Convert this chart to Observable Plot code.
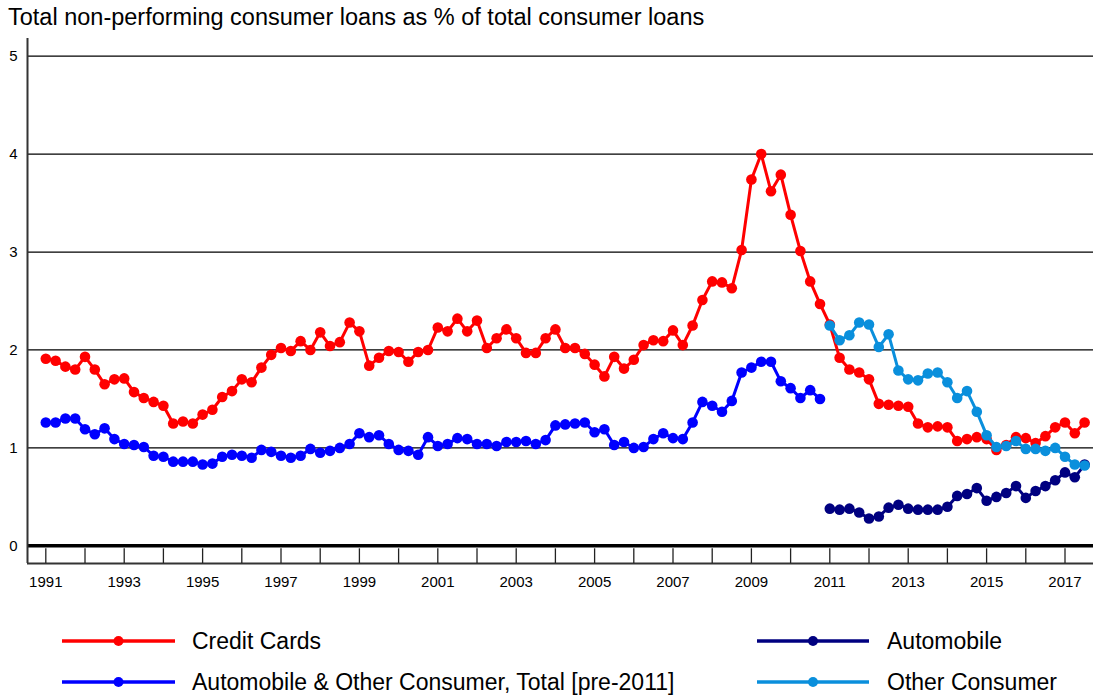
<!DOCTYPE html>
<html><head><meta charset="utf-8">
<script src="https://cdn.jsdelivr.net/npm/d3@7"></script>
<script src="https://cdn.jsdelivr.net/npm/@observablehq/plot@0.6"></script>
<style>
body{margin:0;background:#fff;font-family:"Liberation Sans",Arial,sans-serif;color:#000;}
#wrap{position:relative;width:1093px;height:698px;overflow:hidden;}
#title{height:34px;line-height:34px;font-size:23.5px;padding-left:8px;white-space:nowrap;}
#chart svg{display:block;}
#chart svg text{font-size:15px !important;font-family:"Liberation Sans",Arial,sans-serif;}
#legend{position:relative;height:93px;}
.item{position:absolute;height:30px;display:flex;align-items:center;font-size:23px;white-space:nowrap;}
.item svg{display:block;}
</style></head><body>
<div id="wrap">
<div id="title">Total non-performing consumer loans as % of total consumer loans</div>
<div id="chart"></div>
<div id="legend"></div>
</div>
<script>
// Quarterly data, first point = 1991 Q1
const startYear = 1991;
const creditCards = [1.91,1.89,1.83,1.80,1.93,1.80,1.65,1.70,1.71,1.57,1.51,1.47,1.43,1.25,1.27,1.25,
  1.34,1.39,1.52,1.58,1.70,1.67,1.82,1.95,2.02,1.99,2.09,2.00,2.18,2.04,2.08,2.28,
  2.19,1.84,1.92,1.99,1.98,1.88,1.98,2.00,2.23,2.19,2.32,2.19,2.30,2.02,2.12,2.21,
  2.12,1.97,1.97,2.12,2.21,2.02,2.02,1.96,1.85,1.73,1.93,1.81,1.90,2.05,2.10,2.09,
  2.20,2.05,2.25,2.51,2.70,2.69,2.63,3.02,3.74,4.00,3.62,3.79,3.38,3.01,2.70,2.47,
  2.26,1.92,1.80,1.77,1.70,1.45,1.44,1.43,1.42,1.25,1.21,1.22,1.21,1.07,1.09,1.11,
  1.09,0.98,1.03,1.11,1.10,1.05,1.12,1.21,1.26,1.15,1.26];
// Automobile & Other Consumer, Total [pre-2011], 1991 Q1 - 2010 Q4
const autoOtherTotal = [1.26,1.26,1.30,1.30,1.19,1.14,1.20,1.09,1.04,1.03,1.01,0.92,0.91,0.86,0.86,0.86,
  0.83,0.84,0.91,0.93,0.92,0.90,0.98,0.96,0.92,0.90,0.92,0.99,0.95,0.97,1.00,1.04,
  1.15,1.11,1.13,1.04,0.98,0.97,0.93,1.11,1.02,1.04,1.10,1.09,1.04,1.04,1.02,1.06,
  1.06,1.07,1.04,1.08,1.23,1.24,1.25,1.26,1.16,1.19,1.03,1.06,1.00,1.01,1.09,1.15,
  1.10,1.09,1.26,1.47,1.43,1.37,1.48,1.77,1.82,1.88,1.88,1.68,1.61,1.51,1.59,1.50];
// From 2011 Q1
const splitStartYear = 2011;
const automobile = [0.38,0.37,0.38,0.34,0.28,0.30,0.39,0.42,0.38,0.37,0.37,0.37,0.40,0.51,0.53,0.59,
  0.46,0.50,0.54,0.61,0.49,0.56,0.61,0.67,0.75,0.70,0.83];
const otherConsumer = [2.25,2.10,2.15,2.28,2.26,2.03,2.16,1.79,1.70,1.69,1.76,1.77,1.67,1.51,1.58,1.37,
  1.13,1.01,1.02,1.07,0.99,0.99,0.97,1.00,0.91,0.83,0.82];

const yTicks = [0,1,2,3,4,5];
const tickYears = d3.range(1991, 2018);
const labelYears = [1991,1993,1995,1997,1999,2001,2003,2005,2007,2009,2011,2013,2015,2017];

const seriesNames = ["Credit Cards","Automobile & Other Consumer, Total [pre-2011]","Automobile","Other Consumer"];
const seriesColors = ["#ff0000","#0000ff","#000080","#0a8fdc"];

const toRows = (vals, y0) => vals.map((v,i)=>({t: y0 + i/4, v}));
const dataCC = toRows(creditCards, startYear);
const dataAO = toRows(autoOtherTotal, startYear);
const dataAuto = toRows(automobile, splitStartYear);
const dataOther = toRows(otherConsumer, splitStartYear);

const xMin = 1990.533, xMax = 2017.727, yMin = -0.18, yMax = 5.18;

function series(data, color){
  return [
    Plot.line(data, {x:"t", y:"v", stroke: color, strokeWidth: 3}),
    Plot.dot(data, {x:"t", y:"v", r: 5.3, fill: color, stroke: "none"})
  ];
}

const chart = Plot.plot({
  width: 1093, height: 571,
  marginLeft: 27, marginRight: 0, marginTop: 4, marginBottom: 42,
  style: {fontFamily: '"Liberation Sans", Arial, sans-serif', fontSize: "15px", color: "#000", background: "#fff"},
  x: {type: "linear", domain: [xMin, xMax]},
  y: {domain: [yMin, yMax]},
  marks: [
    Plot.ruleY(yTicks.filter(d=>d>0), {stroke: "#000", strokeWidth: 1.3}),
    Plot.ruleY([0], {stroke: "#000", strokeWidth: 3.5}),
    Plot.ruleX([xMin], {stroke: "#333", strokeWidth: 2}),
    Plot.ruleY([yMin], {stroke: "#333", strokeWidth: 2}),
    Plot.ruleX(tickYears, {y1: yMin, y2: -0.03, stroke: "#222", strokeWidth: 1.3}),
    Plot.axisX(labelYears, {tickSize: 0, tickPadding: 13, tickFormat: d => String(d), label: null, fontSize: 15}),
    Plot.axisY(yTicks, {tickSize: 0, tickPadding: 10, tickFormat: d => String(d), label: null, fontSize: 15}),
    ...series(dataCC, seriesColors[0]),
    ...series(dataAO, seriesColors[1]),
    ...series(dataAuto, seriesColors[2]),
    ...series(dataOther, seriesColors[3])
  ]
});
document.getElementById("chart").appendChild(chart);

// Legend
const legendPos = [
  {left: 62, top: 21, textGap: 17, w: 113},
  {left: 62, top: 62, textGap: 17, w: 113},
  {left: 757, top: 21, textGap: 18, w: 112},
  {left: 757, top: 62, textGap: 18, w: 112}
];
const legend = document.getElementById("legend");
seriesNames.forEach((name, i) => {
  const p = legendPos[i];
  const div = document.createElement("div");
  div.className = "item";
  div.style.left = p.left + "px";
  div.style.top = p.top + "px";
  div.innerHTML = `<svg width="${p.w}" height="14"><line x1="0" y1="7" x2="${p.w}" y2="7" stroke="${seriesColors[i]}" stroke-width="3.5"/><circle cx="${p.w/2}" cy="7" r="5" fill="${seriesColors[i]}"/></svg><span style="margin-left:${p.textGap}px">${name.replace("&","&amp;")}</span>`;
  legend.appendChild(div);
});
</script>
</body></html>
